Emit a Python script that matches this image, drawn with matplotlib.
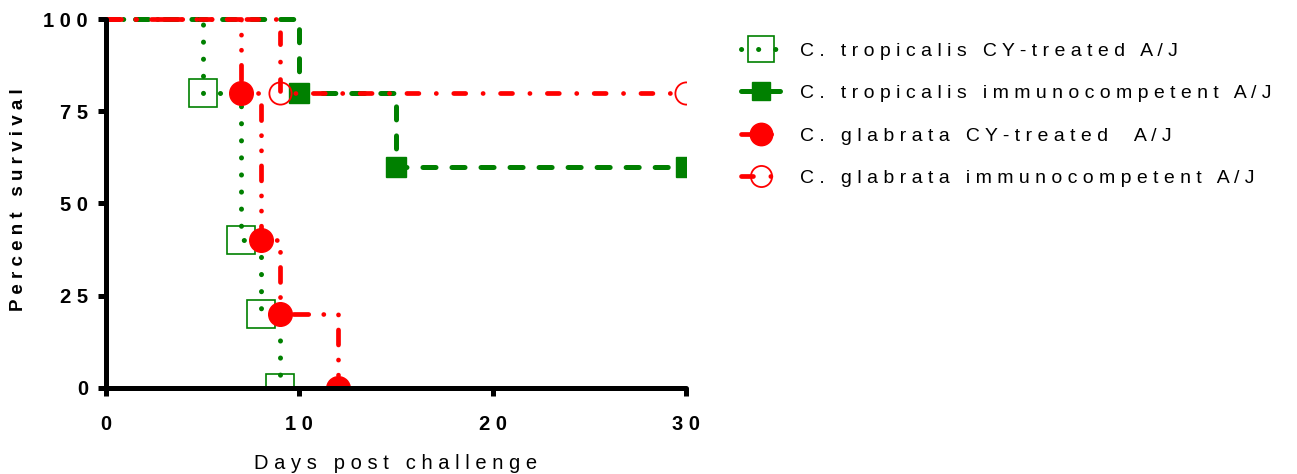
import matplotlib
matplotlib.use("Agg")
import matplotlib.pyplot as plt

# Kaplan-Meier style survival data (days, percent survival)
trop_cy_days = [0, 5, 7, 8, 9]
trop_cy_surv = [100, 80, 40, 20, 0]
trop_im_days = [0, 10, 15, 30]
trop_im_surv = [100, 80, 60, 60]
glab_cy_days = [0, 7, 8, 9, 12]
glab_cy_surv = [100, 80, 40, 20, 0]
glab_im_days = [0, 9, 30]
glab_im_surv = [100, 80, 80]

labels = ["C. tropicalis CY-treated A/J",
          "C. tropicalis immunocompetent A/J",
          "C. glabrata CY-treated  A/J",
          "C. glabrata immunocompetent A/J"]
xticks = [0, 10, 20, 30]
yticks = [0, 25, 50, 75, 100]


def spaced(s):
    # GraphPad-like letter spacing
    return " ".join(s)


plt.rcParams['font.family'] = ['Liberation Sans', 'DejaVu Sans']
plt.rcParams['lines.scale_dashes'] = False

green = '#008000'
red = '#ff0000'

fig = plt.figure(figsize=(12.97, 4.74), dpi=100)
ax = fig.add_axes([0.0817, 0.1821, 0.4472, 0.7928])

def km(days, surv, **kw):
    n = len(days)
    return ax.plot(days, surv, drawstyle='steps-post',
                   markevery=list(range(1, n)), **kw)[0]

h1 = km(trop_cy_days, trop_cy_surv, color=green, lw=3.6,
        linestyle=(0, (0.1, 12.2)), dash_capstyle='round',
        marker='s', ms=20, mfc='none', mec=green, mew=1.2)
h2 = km(trop_im_days, trop_im_surv, color=green, lw=3.6,
        linestyle=(0, (9.4, 11.5)), dash_capstyle='round',
        marker='s', ms=14, mfc=green, mec=green)
h3 = km(glab_cy_days, glab_cy_surv, color=red, lw=3.4,
        linestyle=(0, (10.8, 10.8, 0.1, 10.8, 0.1, 10.8)), dash_capstyle='round',
        marker='o', ms=17, mfc=red, mec=red)
h4 = km(glab_im_days, glab_im_surv, color=red, lw=3.4,
        linestyle=(0, (8.6, 12.5, 0.1, 12.5)), dash_capstyle='round',
        marker='o', ms=16, mfc='none', mec=red, mew=1.3)

ax.set_xlim(0, 30)
ax.set_ylim(0, 102)
ax.spines['top'].set_visible(False)
ax.spines['right'].set_visible(False)
for s in ('left', 'bottom'):
    ax.spines[s].set_linewidth(3.6)
    ax.spines[s].set_capstyle('round')
ax.spines['left'].set_bounds(0, 100)
ax.spines['bottom'].set_bounds(0, 30)

ax.set_xticks(xticks)
ax.set_xticklabels([spaced(str(t)) for t in xticks], fontweight='bold', fontsize=14.5)
ax.set_yticks(yticks)
ax.set_yticklabels([spaced(str(t)) for t in yticks], fontweight='bold', fontsize=14.5)
ax.tick_params(direction='out', length=6, width=3.6)
ax.tick_params(axis='x', pad=14)
ax.tick_params(axis='y', pad=7)

ax.set_xlabel(spaced("Days post challenge"), fontsize=14.5, labelpad=14)
ax.set_ylabel(spaced("Percent survival"), fontsize=13.5, fontweight='bold', labelpad=12)

fig.legend([h1, h2, h3, h4], [spaced(l) for l in labels],
           loc='upper left', bbox_to_anchor=(0.558, 0.948),
           frameon=False, fontsize=14, handlelength=2.0,
           handletextpad=1.0, labelspacing=1.28, markerscale=0.95)

fig.savefig("out.png", dpi=100)
